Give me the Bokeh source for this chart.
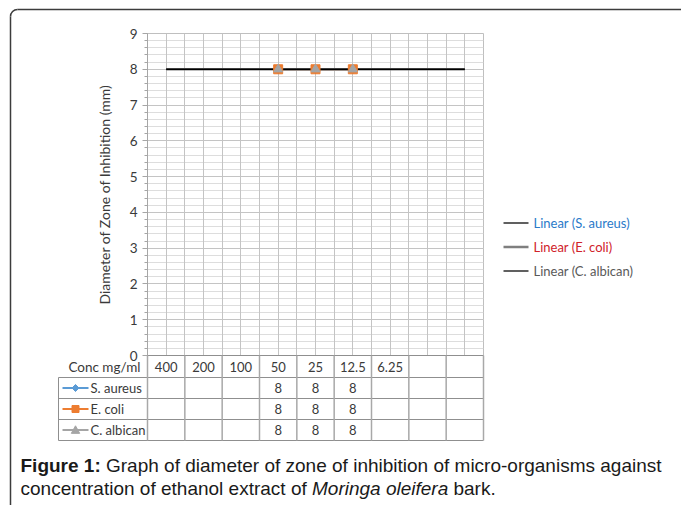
import numpy as np
from bokeh.plotting import figure
from bokeh.models import Range1d, SingleIntervalTicker, Grid
from bokeh.core.properties import value
from bokeh.embed import file_html
from bokeh.resources import INLINE

# ---------------- data ----------------
conc_labels = ["400", "200", "100", "50", "25", "12.5", "6.25", "", ""]
series_names = ["S. aureus", "E. coli", "C. albican"]
s_aureus = [None, None, None, 8, 8, 8, None, None, None]
e_coli = [None, None, None, 8, 8, 8, None, None, None]
c_albican = [None, None, None, 8, 8, 8, None, None, None]
y_ticks = list(range(0, 10))
trend_labels = ["Linear (S. aureus)", "Linear (E. coli)", "Linear (C. albican)"]

series_values = [s_aureus, e_coli, c_albican]
series_colors = ["#5b9bd5", "#ed7d31", "#a5a5a5"]
series_markers = ["diamond", "square", "triangle"]
marker_sizes = [9, 9, 9]
trend_colors = ["#000000", "#7f7f7f", "#000000"]
trend_widths = [1.25, 2.5, 1.25]
trend_text_colors = ["#2a7ac9", "#d0222a", "#595959"]

FONT_NAME = "Lato"
CHART_FONT = value(FONT_NAME)
CAP_FONT = value("Liberation Sans")
TXT = "#3a3a3a"

# ---------------- figure ----------------
W, H = 681, 505
n = len(conc_labels)
FX0, FX1, FY0, FY1 = 147, 483, 33, 355   # plot-area edges in page pixels
p = figure(width=W, height=H, output_backend="svg", toolbar_location=None,
           x_range=Range1d(0, n), y_range=Range1d(0, 9), x_axis_type=None,
           min_border_left=FX0, min_border_right=W - FX1,
           min_border_top=FY0, min_border_bottom=H - FY1)
p.background_fill_color = "white"
p.border_fill_color = "white"
p.outline_line_color = "#bfbfbf"

# page-pixel helper ranges
p.extra_x_ranges = {"px": Range1d(FX0, FX1)}
p.extra_y_ranges = {"px": Range1d(FY1, FY0)}
PX = dict(x_range_name="px", y_range_name="px", level="overlay")
XPY = dict(y_range_name="px", level="overlay")

# y axis
ax = p.yaxis[0]
ax.ticker = SingleIntervalTicker(interval=1, num_minor_ticks=5)
ax.axis_label = "Diameter of Zone of Inhibition (mm)"
ax.axis_label_text_font = FONT_NAME
ax.axis_label_text_font_size = "14px"
ax.axis_label_text_font_style = "normal"
ax.axis_label_text_color = TXT
ax.axis_label_standoff = 14
ax.major_label_text_font = FONT_NAME
ax.major_label_text_font_size = "13.5px"
ax.major_label_text_color = TXT
ax.major_label_standoff = 5
ax.axis_line_color = "#a6a6a6"
ax.major_tick_line_color = "#a6a6a6"
ax.minor_tick_line_color = "#a6a6a6"
ax.major_tick_out = 5
ax.major_tick_in = 0
ax.minor_tick_out = 3
ax.minor_tick_in = 0

p.ygrid.grid_line_color = "#c4c4c4"
p.ygrid.minor_grid_line_color = "#dddddd"
p.add_layout(Grid(dimension=0, ticker=SingleIntervalTicker(interval=0.5),
                  grid_line_color="#c4c4c4"))

# ---------------- series ----------------
centers = [i + 0.5 for i in range(n)]
for vals, col in zip(series_values, series_colors):
    xs = [centers[i] for i, v in enumerate(vals) if v is not None]
    ys = [v for v in vals if v is not None]
    p.line(xs, ys, line_color=col, line_width=2.25)

# linear trend lines across all categories
for vals, col, lw in zip(series_values, trend_colors, trend_widths):
    idx = np.array([i for i, v in enumerate(vals) if v is not None], dtype=float)
    ys = np.array([v for v in vals if v is not None], dtype=float)
    slope, icpt = np.polyfit(idx, ys, 1)
    x_end = np.array([0, n - 1], dtype=float)
    p.line(list(x_end + 0.5), list(slope * x_end + icpt), line_color=col,
           line_width=max(lw, 1.5))

for vals, col, mk, ms in zip(series_values, series_colors, series_markers, marker_sizes):
    xs = [centers[i] for i, v in enumerate(vals) if v is not None]
    ys = [v for v in vals if v is not None]
    p.scatter(xs, ys, marker=mk, size=ms, fill_color=col, line_color=col)

# ---------------- legend (trend lines) ----------------
leg_y = [222.5, 246.5, 270.5]
for yy, col, lw, lab, tcol in zip(leg_y, trend_colors, trend_widths, trend_labels, trend_text_colors):
    p.line([503, 528], [yy, yy], line_color=col, line_width=lw, **PX)
    p.text(x=[533], y=[yy], text=[lab], text_font=CHART_FONT, text_font_size="13px",
           text_color=tcol, text_align="left", text_baseline="middle", **PX)

# ---------------- data table ----------------
TBL = "#8f8f8f"
row_edges = [355, 377, 398, 419, 440]
hdr_c = (row_edges[0] + row_edges[1]) / 2
row_c = [(row_edges[k] + row_edges[k + 1]) / 2 for k in range(1, 4)]

p.segment(x0=[FX0], y0=[row_edges[0]], x1=[FX1], y1=[row_edges[0]], line_color=TBL, line_width=1, **PX)
p.segment(x0=[58] * 4, y0=row_edges[1:], x1=[FX1] * 4, y1=row_edges[1:], line_color=TBL, line_width=1, **PX)
p.segment(x0=list(range(n + 1)), y0=[row_edges[0]] * (n + 1), x1=list(range(n + 1)),
          y1=[row_edges[-1]] * (n + 1), line_color="#a8a8a8", line_width=1.5, **XPY)
p.segment(x0=[58], y0=[row_edges[1]], x1=[58], y1=[row_edges[-1]], line_color=TBL, line_width=1, **PX)

p.text(x=[140], y=[hdr_c], text=["Conc mg/ml"], text_font=CHART_FONT, text_font_size="13.5px",
       text_color=TXT, text_align="right", text_baseline="middle", **PX)
p.text(x=centers, y=[hdr_c] * n, text=conc_labels, text_font=CHART_FONT, text_font_size="13px",
       text_color=TXT, text_align="center", text_baseline="middle", **XPY)


def key_shape(kind, cx, cy, r):
    """Outline of a legend-key marker around a page-pixel centre (px range is 1:1)."""
    if kind == "diamond":
        return [cx - r, cx, cx + r, cx], [cy, cy - r, cy, cy + r]
    if kind == "square":
        return [cx - r, cx + r, cx + r, cx - r], [cy - r, cy - r, cy + r, cy + r]
    return [cx - r, cx + r, cx], [cy + r * 0.8, cy + r * 0.8, cy - r]


for yy, name, vals, col, mk in zip(row_c, series_names, series_values, series_colors, series_markers):
    p.line([62, 88], [yy, yy], line_color=col, line_width=2, **PX)
    kx, ky = key_shape(mk, 75, yy, 3.5 if mk != "triangle" else 4.2)
    p.patch(kx, ky, fill_color=col, line_color=col, line_width=1, **PX)
    p.text(x=[90], y=[yy], text=[name], text_font=CHART_FONT, text_font_size="13px",
           text_color=TXT, text_align="left", text_baseline="middle", **PX)
    xs = [centers[i] for i, v in enumerate(vals) if v is not None]
    ts = ["%g" % v for v in vals if v is not None]
    p.text(x=xs, y=[yy] * len(xs), text=ts, text_font=CHART_FONT, text_font_size="13px",
           text_color=TXT, text_align="center", text_baseline="middle", **XPY)

# ---------------- outer frame ----------------
FR = "#3c3c3c"
p.line([10, 10], [16, 520], line_color=FR, line_width=1.5, **PX)
p.line([17, 700], [9, 9], line_color=FR, line_width=1.5, **PX)
p.arc(x=[17], y=[16], radius=7, radius_units="screen", start_angle=np.pi / 2, end_angle=np.pi,
      line_color=FR, line_width=1.5, **PX)

# ---------------- caption ----------------
REG = {" ": 278, "a": 556, "b": 556, "c": 500, "d": 556, "e": 556, "f": 278, "g": 556,
       "h": 556, "i": 222, "k": 500, "l": 222, "m": 833, "n": 556, "o": 556, "p": 556,
       "r": 333, "s": 500, "t": 278, "u": 556, "x": 500, "z": 500, "M": 833, ".": 278, "-": 333}
BOLD = {"F": 611, "i": 278, "g": 611, "u": 611, "r": 389, "e": 556, " ": 278, "1": 556, ":": 333}


def tw(s, table, size):
    return sum(table[c] for c in s) / 1000.0 * size


CAP_SIZE = 19
cx = 20
cap1_y, cap2_y = 465, 488
bold_txt = "Figure 1:"
rest1 = "Graph of diameter of zone of inhibition of micro-organisms against"
line2a = "concentration of ethanol extract of"
ital = "Moringa oleifera"
line2b = "bark."
x_rest1 = cx + tw(bold_txt + " ", BOLD, CAP_SIZE)
x_ital = cx + tw(line2a + " ", REG, CAP_SIZE)
x_2b = x_ital + tw(ital + " ", REG, CAP_SIZE)
capkw = dict(text_font=CAP_FONT, text_font_size="%dpx" % CAP_SIZE, text_color="#1a1a1a",
             text_align="left", text_baseline="middle", **PX)
p.text(x=[cx], y=[cap1_y], text=[bold_txt], text_font_style="bold", **capkw)
p.text(x=[x_rest1], y=[cap1_y], text=[rest1], **capkw)
p.text(x=[cx], y=[cap2_y], text=[line2a], **capkw)
p.text(x=[x_ital], y=[cap2_y], text=[ital], text_font_style="italic", **capkw)
p.text(x=[x_2b], y=[cap2_y], text=[line2b], **capkw)

open("out.html", "w").write(file_html(p, INLINE))
